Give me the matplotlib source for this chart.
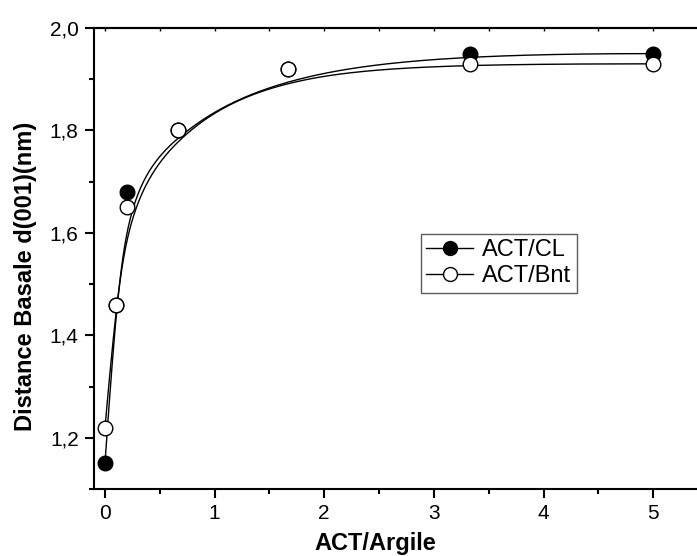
import numpy as np
import matplotlib
matplotlib.use("Agg")
import matplotlib.pyplot as plt
from matplotlib.ticker import FuncFormatter, MultipleLocator

plt.rcParams['font.family'] = ['Liberation Sans', 'DejaVu Sans']

# ACT/Argile ratio
ratio = [0.0, 0.1, 0.2, 0.667, 1.667, 3.333, 5.0]
# basal spacing d(001) in nm
d_cl = [1.15, 1.46, 1.68, 1.80, 1.92, 1.95, 1.95]
d_bnt = [1.22, 1.46, 1.65, 1.80, 1.92, 1.93, 1.93]

series_names = ["ACT/CL", "ACT/Bnt"]


def bspline(px, py, k=3, num=400):
    """Clamped uniform B-spline using the data points as control points."""
    px = np.asarray(px, float)
    py = np.asarray(py, float)
    n = len(px)
    knots = np.concatenate([np.zeros(k), np.linspace(0, 1, n - k + 1), np.ones(k)])
    u = np.linspace(0, 1, num)
    u[-1] -= 1e-10
    B = np.zeros((num, len(knots) - 1))
    for i in range(len(knots) - 1):
        B[:, i] = (u >= knots[i]) & (u < knots[i + 1])
    for d in range(1, k + 1):
        Bn = np.zeros((num, len(knots) - 1 - d))
        for i in range(len(knots) - 1 - d):
            a = knots[i + d] - knots[i]
            b = knots[i + d + 1] - knots[i + 1]
            t1 = (u - knots[i]) / a * B[:, i] if a > 0 else 0
            t2 = (knots[i + d + 1] - u) / b * B[:, i + 1] if b > 0 else 0
            Bn[:, i] = t1 + t2
        B = Bn
    return B @ px, B @ py


W, H = 697, 556
L, R, T, Bt = 94, 697, 28, 489
fig = plt.figure(figsize=(W / 100, H / 100), dpi=100)
ax = fig.add_axes([L / W, (H - Bt) / H, (R - L) / W, (Bt - T) / H])

ms = 10.5
cx, cy = bspline(ratio, d_cl)
ax.plot(cx, cy, color='black', lw=1.0, zorder=2)
bx, by = bspline(ratio, d_bnt)
ax.plot(bx, by, color='black', lw=1.0, zorder=2)
ax.plot(ratio, d_cl, 'o', color='black', mfc='black', mec='black', ms=ms, mew=1.0, zorder=3)
ax.plot(ratio, d_bnt, 'o', color='black', mfc='white', mec='black', ms=ms, mew=1.0, zorder=4)

# legend entries: line through marker
h1, = ax.plot([], [], '-o', color='black', mfc='black', mec='black', ms=10, lw=1.0)
h2, = ax.plot([], [], '-o', color='black', mfc='white', mec='black', ms=10, lw=1.0)
leg = ax.legend([h1, h2], series_names, loc='upper left',
                bbox_to_anchor=((421 - L) / (R - L), (Bt - 234) / (Bt - T)),
                fontsize=17, frameon=True, fancybox=False, handlelength=2.0,
                handletextpad=0.38, borderpad=0.22, labelspacing=0.18,
                borderaxespad=0)
leg.get_frame().set_edgecolor('#333333')
leg.get_frame().set_linewidth(1.0)

ax.set_xlim(-0.1, 5.4)
ax.set_ylim(1.1, 2.0)

ax.xaxis.set_major_locator(MultipleLocator(1))
ax.xaxis.set_minor_locator(MultipleLocator(0.5))
ax.yaxis.set_major_locator(MultipleLocator(0.2))
ax.yaxis.set_minor_locator(MultipleLocator(0.1))
ax.yaxis.set_major_formatter(FuncFormatter(lambda v, p: f"{v:.1f}".replace('.', ',')))

for s in ['left', 'bottom', 'top']:
    ax.spines[s].set_linewidth(1.5)
ax.spines['right'].set_visible(False)

ax.tick_params(axis='both', which='major', direction='out', length=6.5, width=1.5,
               labelsize=15, pad=4.5)
ax.tick_params(axis='both', which='minor', direction='out', length=3.5, width=1.5)
ax.tick_params(axis='x', which='both', top=False)

# top axis: tiny inward ticks
axt = ax.secondary_xaxis('top')
axt.xaxis.set_major_locator(MultipleLocator(0.5))
axt.tick_params(direction='in', length=2, width=1.0, labeltop=False)
axt.spines['top'].set_linewidth(1.5)

ax.set_xlabel("ACT/Argile", fontsize=17, fontweight='bold')
ax.xaxis.set_label_coords((375 - L) / (R - L), -(532 - Bt) / (Bt - T))
ax.set_ylabel("Distance Basale d(001)(nm)", fontsize=17, fontweight='bold')
ax.yaxis.set_label_coords(-(L - 37) / (R - L), (Bt - 276) / (Bt - T))

fig.savefig("out.png", dpi=100)
